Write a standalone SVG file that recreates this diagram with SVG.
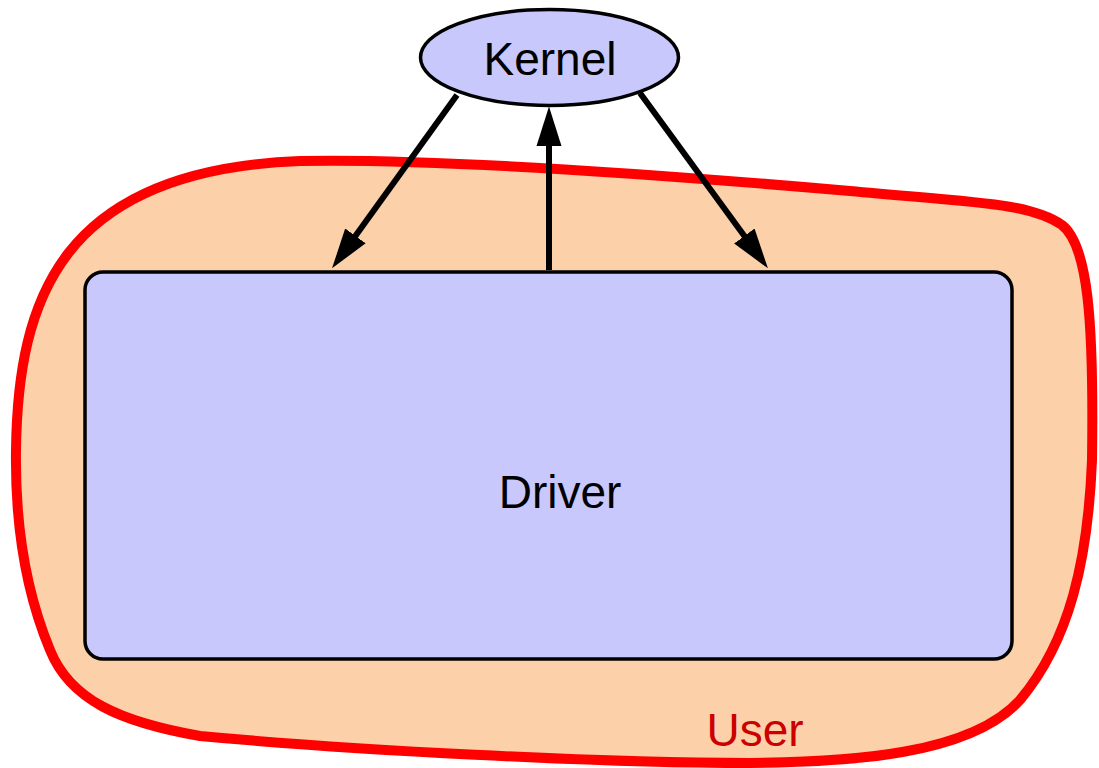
<svg xmlns="http://www.w3.org/2000/svg" width="1099" height="768" viewBox="0 0 1099 768">
  <style>
    .lbl { font-family: "Liberation Sans", Arial, sans-serif; font-size: 46px; text-anchor: middle; }
    .node { fill: #c8c8fc; stroke: #000; stroke-width: 3.5; }
    .edge { stroke: #000; stroke-width: 6; fill: none; marker-end: url(#ah); }
  </style>
  <defs>
    <marker id="ah" markerUnits="userSpaceOnUse" markerWidth="40" markerHeight="26" viewBox="0 0 38 24" refX="8" refY="12" orient="auto">
      <path d="M0,0 L38,12 L0,24 Z" fill="#000"/>
    </marker>
  </defs>
  <rect width="1099" height="768" fill="#fff"/>
  <g id="user">
    <path d="M 300 161 C 450 158, 700 178, 850 191 C 980 203, 1030 203, 1062 225 C 1088 245, 1094 320, 1092 460 C 1088 560, 1070 640, 1020 700 C 970 755, 850 762, 750 763 C 600 763, 350 750, 200 736 C 120 722, 70 700, 50 650 C 25 590, 15 520, 16 450 C 18 300, 60 170, 300 161 Z" fill="#fcd1aa" stroke="#ff0000" stroke-width="10"/>
    <text class="lbl" x="755" y="746" fill="#cc0000">User</text>
  </g>
  <g id="driver">
    <rect class="node" x="85" y="272" width="927" height="387" rx="18" ry="18"/>
    <text class="lbl" x="560" y="508" fill="#000">Driver</text>
  </g>
  <g id="kernel">
    <ellipse class="node" cx="549.5" cy="57.5" rx="129" ry="48"/>
    <text class="lbl" x="550" y="75" fill="#000">Kernel</text>
  </g>
  <g id="connectors">
    <line class="edge" x1="457" y1="95" x2="350.5" y2="242.7"/>
    <line class="edge" x1="549" y1="270" x2="549" y2="138"/>
    <line class="edge" x1="640" y1="93" x2="749.3" y2="242.8"/>
  </g>
</svg>
